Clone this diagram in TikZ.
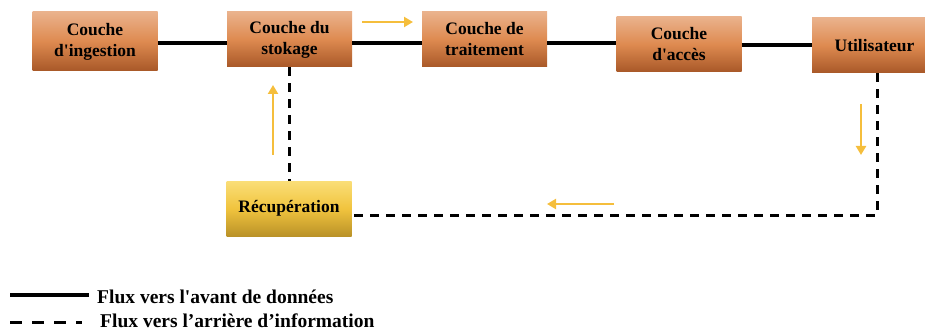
\documentclass[tikz,border=0pt]{standalone}
\usepackage{fontspec}
% plain family: straight quotes stay straight
\newfontfamily\labelfont{Liberation Serif}
\usetikzlibrary{arrows.meta}

\definecolor{orgTop}{RGB}{234,178,140}
\definecolor{orgMid}{RGB}{222,138,80}
\definecolor{orgBot}{RGB}{168,88,40}
\definecolor{ylwTop}{RGB}{250,222,120}
\definecolor{ylwMid}{RGB}{241,196,62}
\definecolor{ylwBot}{RGB}{186,146,40}
\definecolor{flowArrow}{RGB}{245,190,60}

\tikzset{
  layer/.style={rectangle, inner sep=0pt, align=center,
    font=\labelfont\fontsize{17.5}{21}\selectfont\bfseries,
    minimum width=125pt, minimum height=55pt,
    top color=orgTop, bottom color=orgBot, middle color=orgMid},
  recbox/.style={layer, top color=ylwTop, bottom color=ylwBot, middle color=ylwMid},
  fwd/.style={line width=3.5pt},
  bwd/.style={line width=3pt, dash pattern=on 9pt off 7pt},
  hint/.style={draw=flowArrow, line width=2.5pt, -{Triangle[length=9pt,width=10pt]}},
  legendtext/.style={anchor=base west, inner sep=0pt,
    font=\labelfont\fontsize{19.5}{23}\selectfont\bfseries}
}

\begin{document}
\begin{tikzpicture}[x=1pt,y=-1pt]
  \useasboundingbox (0,0) rectangle (925,331);

  % layers of the pipeline
  \node[layer, minimum height=59pt] (ing) at (95,41.5) {Couche\\d'ingestion};
  \node[layer] (sto) at (289.5,39.5) {Couche du\\stokage};
  \node[layer] (tra) at (484.5,39.5) {Couche de\\traitement};
  \node[layer] (acc) at (679,44.5) {Couche\\d'accès};
  \node[layer] (uti) at (874.5,45.5) {Utilisateur};
  \node[recbox] (rec) at (289,208.5) {Récupération};

  % forward data flow
  \draw[fwd] (ing.east |- 0,43) -- (sto.west |- 0,43);
  \draw[fwd] (sto.east |- 0,43) -- (tra.west |- 0,43);
  \draw[fwd] (tra.east |- 0,43) -- (acc.west |- 0,43);
  \draw[fwd] (acc.east |- 0,45) -- (uti.west |- 0,45);

  % backward information flow
  \coordinate (corner) at (877,215);
  \draw[bwd] (uti.south -| corner) -- (corner) -- (rec.east |- corner);
  \draw[bwd] (sto.south -| rec.north) -- (rec.north);

  % direction hints
  \coordinate (h1a) at (362,22);  \coordinate (h1b) at (413,22);
  \coordinate (h2a) at (273,155); \coordinate (h2b) at (273,85);
  \coordinate (h3a) at (861,104); \coordinate (h3b) at (861,155);
  \coordinate (h4a) at (614,204); \coordinate (h4b) at (547,204);
  \draw[hint] (h1a) -- (h1b);
  \draw[hint] (h2a) -- (h2b);
  \draw[hint] (h3a) -- (h3b);
  \draw[hint] (h4a) -- (h4b);

  % legend
  \coordinate (l1a) at (10,295); \coordinate (l1b) at (89,295);
  \coordinate (l2a) at (10,322); \coordinate (l2b) at (82,322);
  \draw[fwd] (l1a) -- (l1b);
  \draw[line width=3pt, dash pattern=on 12pt off 10pt] (l2a) -- (l2b);
  \node[legendtext] (lt1) at (97,303) {Flux vers l'avant de données};
  \node[legendtext] (lt2) at (100,327) {Flux vers l’arrière d’information};
\end{tikzpicture}
\end{document}
